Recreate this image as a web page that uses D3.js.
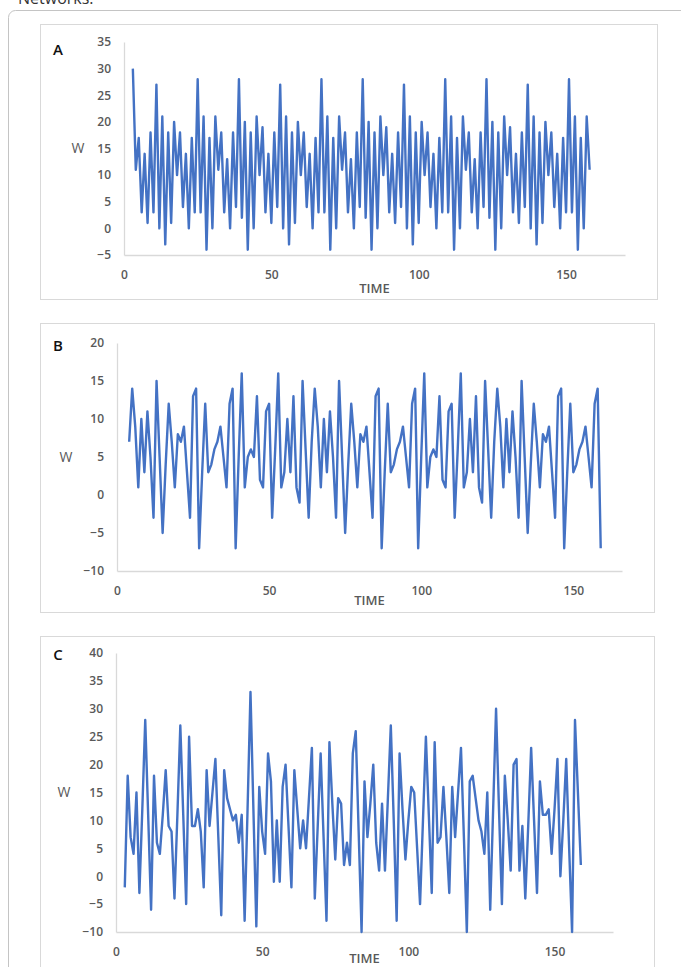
<!DOCTYPE html>
<html>
<head>
<meta charset="utf-8">
<title>W against TIME</title>
<script src="https://cdn.jsdelivr.net/npm/d3@7"></script>
<style>
    body { margin: 0; background: #fff; }
    text { font-family: "Open Sans", "Liberation Sans", sans-serif; }
</style>
</head>
<body>
<div id="chart"></div>
<script>
// ---- data: W per TIME step (first TIME of each series given separately) ----
var startA = 3;
var valuesA = [30,11,17,3,14,1,18,3,
    27,0,21,-3,18,1,20,10,18,4,14,0,17,3,
    28,3,21,-4,17,0,21,11,18,3,13,0,18,4,
    28,2,20,-4,18,0,21,10,19,3,14,1,18,4,
    27,0,21,-3,18,1,20,10,18,4,14,0,17,3,
    28,3,21,-4,17,0,21,11,18,3,13,0,18,4,
    28,2,20,-4,18,0,21,10,19,3,14,1,18,4,
    27,0,21,-3,18,1,20,10,18,4,14,0,17,3,
    28,3,21,-4,17,0,21,11,18,3,13,0,18,4,
    28,2,20,-4,18,0,21,10,19,3,14,1,18,4,
    27,0,21,-3,18,1,20,10,18,4,14,0,17,3,
    28,3,21,-4,17,0,21,11];

var startB = 4;
var valuesB = [7,14,9,1,10,3,11,5,-3,15,5,-5,4,12,7,1,8,7,9,3,
    -3,13,14,-7,3,12,3,4,6,7,9,5,1,12,14,-7,5,16,1,5,
    6,5,13,2,1,11,12,-3,6,16,1,3,10,3,13,1,-1,15,6,-3,
    7,14,9,1,10,3,11,5,-3,15,5,-5,4,12,7,1,8,7,9,3,
    -3,13,14,-7,3,12,3,4,6,7,9,5,1,12,14,-7,5,16,1,5,
    6,5,13,2,1,11,12,-3,6,16,1,3,10,3,13,1,-1,15,6,-3,
    7,14,9,1,10,3,11,5,-3,15,5,-5,4,12,7,1,8,7,9,3,
    -3,13,14,-7,3,12,3,4,6,7,9,5,1,12,14,-7];

var startC = 3;
var valuesC = [-2,18,7,4,15,-3,12,28,11,-6,18,6,4,11,19,9,8,-4,11,27,
    11,-5,25,9,9,12,8,-2,19,9,15,21,7,-7,19,14,12,10,11,6,
    11,-8,12,33,12,-9,16,8,4,22,17,-1,10,-1,16,20,9,-2,19,12,
    5,10,5,14,23,-4,9,22,7,-8,24,13,3,14,13,2,6,2,22,26,
    8,-10,17,7,13,20,6,1,13,1,14,27,10,-8,22,12,3,10,16,15,
    5,-5,10,25,11,-3,24,6,7,16,7,-3,16,7,15,23,7,-10,17,18,
    14,10,8,4,15,-6,12,30,12,-5,18,10,1,20,21,1,9,-4,9,23,
    10,-3,17,11,11,12,4,12,21,0,10,21,5,-10,28,15,2];

var yTicksA = [-5,0,5,10,15,20,25,30,35];
var yTicksB = [-10,-5,0,5,10,15,20];
var yTicksC = [-10,-5,0,5,10,15,20,25,30,35,40];
var xTicks = [0,50,100,150];
var panelNames = ["A","B","C"];
var xTitle = "TIME", yTitle = "W";

// ---- layout ----
var width = 681, height = 967;

var panels = [
    {name: panelNames[0], start: startA, values: valuesA, yTicks: yTicksA, xMax: 170,
     box: [40, 24, 617, 275], left: 124, right: 625, top: 42, bottom: 255,
     nameY: 50, wX: 78, timeY: 288},
    {name: panelNames[1], start: startB, values: valuesB, yTicks: yTicksB, xMax: 166,
     box: [40, 323, 614, 289], left: 117, right: 622, top: 343, bottom: 571,
     nameY: 346, wX: 66, timeY: 600},
    {name: panelNames[2], start: startC, values: valuesC, yTicks: yTicksC, xMax: 170,
     box: [40, 636, 614, 360], left: 116, right: 613, top: 653, bottom: 932,
     nameY: 655, wX: 64, timeY: 958}
];

var svg = d3.select("#chart").append("svg")
    .attr("width", width)
    .attr("height", height);

// caption line cut by the top edge, as in the source page
svg.append("text")
    .attr("x", 18).attr("y", 4)
    .style("font-size", "16px")
    .attr("fill", "#333")
    .text("Networks.");

// outer figure frame
svg.append("rect")
    .attr("x", 8.5).attr("y", 10.5)
    .attr("width", 700).attr("height", 1000)
    .attr("rx", 7)
    .attr("fill", "none")
    .attr("stroke", "#c4c4c4");

panels.forEach(function(p){
    var g = svg.append("g");

    g.append("rect")
        .attr("x", p.box[0] + 0.5).attr("y", p.box[1] + 0.5)
        .attr("width", p.box[2]).attr("height", p.box[3])
        .attr("fill", "#fff")
        .attr("stroke", "#d9d9d9");

    var x = d3.scaleLinear().domain([0, p.xMax]).range([p.left, p.right]);
    var y = d3.scaleLinear().domain([p.yTicks[0], p.yTicks[p.yTicks.length-1]]).range([p.bottom, p.top]);

    var yAxis = g.append("g")
        .attr("transform", "translate(" + p.left + ",0)")
        .call(d3.axisLeft(y).tickValues(p.yTicks).tickSize(0).tickPadding(13));
    var xAxis = g.append("g")
        .attr("transform", "translate(0," + p.bottom + ")")
        .call(d3.axisBottom(x).tickValues(xTicks).tickSize(0).tickPadding(15));

    [yAxis, xAxis].forEach(function(a){
        a.select(".domain").attr("stroke", "#d9d9d9").attr("stroke-width", 1.3);
        a.selectAll("text")
            .style("font-size", "12px")
            .style("font-weight", "600")
            .attr("fill", "#595959");
    });

    var line = d3.line()
        .x(function(d, i){ return x(p.start + i); })
        .y(function(d){ return y(d); });

    g.append("path")
        .datum(p.values)
        .attr("d", line)
        .attr("fill", "none")
        .attr("stroke", "#4472c4")
        .attr("stroke-width", 2.4)
        .attr("stroke-linejoin", "round");

    g.append("text")
        .attr("x", 58).attr("y", p.nameY)
        .attr("text-anchor", "middle")
        .attr("dy", "0.35em")
        .style("font-size", "15px")
        .style("font-weight", "600")
        .attr("fill", "#111")
        .text(p.name);

    g.append("text")
        .attr("x", p.wX).attr("y", (p.top + p.bottom) / 2)
        .attr("text-anchor", "middle")
        .attr("dy", "0.35em")
        .style("font-size", "14px")
        .attr("fill", "#595959")
        .text(yTitle);

    g.append("text")
        .attr("x", (p.left + p.right) / 2).attr("y", p.timeY)
        .attr("text-anchor", "middle")
        .attr("dy", "0.35em")
        .style("font-size", "13px")
        .style("font-weight", "600")
        .attr("fill", "#595959")
        .text(xTitle);
});
</script>
</body>
</html>
